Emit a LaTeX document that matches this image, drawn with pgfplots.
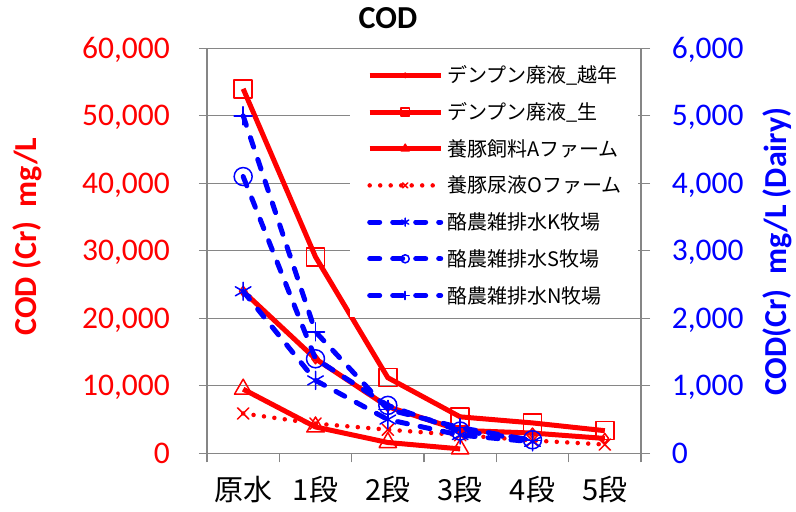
\documentclass[border=0pt]{standalone}
\usepackage{fontspec}
\setmainfont{Carlito}
\newfontfamily\jp{Noto Sans CJK JP}
\usepackage{pgfplots}
\pgfplotsset{compat=1.18}
\definecolor{gridgray}{RGB}{134,134,134}
\begin{document}
\begin{tikzpicture}
\path[use as bounding box] (-207bp,-58.7bp) rectangle (589bp,453.3bp);
\pgfplotsset{
  every axis/.append style={
    scale only axis, width=434bp, height=405bp,
    xmin=-0.5, xmax=5.5, clip=false,
    axis line style={gridgray, line width=1.2bp},
    scaled y ticks=false,
    /pgf/number format/1000 sep={,},
    /pgf/number format/assume math mode=true,
  },
  redsolid/.style={red, line width=5bp, line join=round, mark options={solid, line width=1.5bp}},
  reddot/.style={red, line width=4.5bp, line cap=round, dash pattern=on 0bp off 10.5bp, mark options={solid, line width=1.5bp}},
  bluedash/.style={blue, line width=5bp, line cap=round, line join=round, dash pattern=on 10bp off 13bp, mark options={solid, line width=1.5bp}},
}
% left axis (red series)
\begin{axis}[
  axis y line*=left, axis x line*=bottom,
  ymin=0, ymax=60000, ytick={0,10000,...,60000},
  ymajorgrids, grid style={gridgray, line width=1.2bp},
  xtick={0,...,5}, xticklabels={原水,1段,2段,3段,4段,5段},
  major x tick style={draw=none},
  minor xtick={-0.5,0.5,...,5.5},
  minor x tick style={gridgray, line width=1.2bp},
  minor tick length=9bp,
  major y tick style={gridgray, line width=1.2bp},
  major tick length=8bp,
  tick align=outside,
  xticklabel style={font=\jp\fontsize{29bp}{34bp}\selectfont, text height=25.5bp, text depth=3.5bp, inner sep=0pt, anchor=center, yshift=-28bp},
  yticklabel style={font=\fontsize{31.5bp}{36bp}\selectfont, red, anchor=east, inner sep=0pt, text height=20bp, text depth=0pt, xshift=-29bp},
]
\addplot[redsolid, mark=diamond, mark size=5bp] coordinates {(0,24000)(1,14000)(2,6900)(3,3400)(4,3000)(5,2200)};
\addplot[redsolid, mark=square, mark size=9bp] coordinates {(0,54000)(1,29100)(2,11200)(3,5400)(4,4500)(5,3350)};
\addplot[redsolid, mark=triangle, mark size=10bp] coordinates {(0,9500)(1,3900)(2,1600)(3,650)};
\addplot[reddot, mark=x, mark size=8bp] coordinates {(0,5900)(1,4400)(2,3500)(3,2700)(4,1900)(5,1300)};
\end{axis}
% right axis (blue series) + legend
\begin{axis}[
  axis y line*=right, axis x line=none,
  ymin=0, ymax=6000, ytick={0,1000,...,6000},
  major y tick style={gridgray, line width=1.2bp},
  tick align=center, major tick length=18bp,
  yticklabel style={font=\fontsize{31.5bp}{36bp}\selectfont, blue, anchor=west, inner sep=0pt, text height=20bp, text depth=0pt, xshift=21.7bp},
  legend cell align=left,
  legend style={at={(0.3295,0.9785)}, anchor=north west, draw=none, fill=white,
    inner xsep=17bp, inner ysep=9.6bp,
    font=\jp\fontsize{20bp}{24bp}\selectfont,
    nodes={inner sep=0pt, text height=16bp, text depth=4bp},
    row sep=16.7bp},
  legend image code/.code={
    \draw[mark repeat=2, mark phase=2, #1, every mark/.append style={scale=0.45}]
      plot coordinates {(0bp,1.5bp) (35.5bp,1.5bp) (71bp,1.5bp)};
    \path (75bp,1.5bp);
  },
]
\addlegendimage{redsolid, mark=diamond, mark size=5bp}
\addlegendentry{デンプン廃液\_越年}
\addlegendimage{redsolid, mark=square, mark size=9bp}
\addlegendentry{デンプン廃液\_生}
\addlegendimage{redsolid, mark=triangle, mark size=10bp}
\addlegendentry{養豚飼料Aファーム}
\addlegendimage{reddot, mark=x, mark size=8bp}
\addlegendentry{養豚尿液Oファーム}
\addplot[bluedash, mark=asterisk, mark size=9bp] coordinates {(0,2400)(1,1080)(2,500)(3,270)(4,170)};
\addlegendentry{酪農雑排水K牧場}
\addplot[bluedash, mark=o, mark size=9bp] coordinates {(0,4100)(1,1400)(2,710)(3,330)(4,200)};
\addlegendentry{酪農雑排水S牧場}
\addplot[bluedash, mark=+, mark size=9bp] coordinates {(0,5000)(1,1800)(2,650)(3,380)(4,190)};
\addlegendentry{酪農雑排水N牧場}
\end{axis}
\node[font=\bfseries\fontsize{32bp}{38bp}\selectfont] at (181bp,435.3bp) {COD};
\node[rotate=90, red, font=\bfseries\fontsize{32bp}{38bp}\selectfont] at (-179.5bp,216.8bp) {COD (Cr)\ \ mg/L};
\node[rotate=90, blue, font=\bfseries\fontsize{32bp}{38bp}\selectfont] at (570bp,201.6bp) {COD(Cr)\ \ mg/L (Dairy)};
\end{tikzpicture}
\end{document}
